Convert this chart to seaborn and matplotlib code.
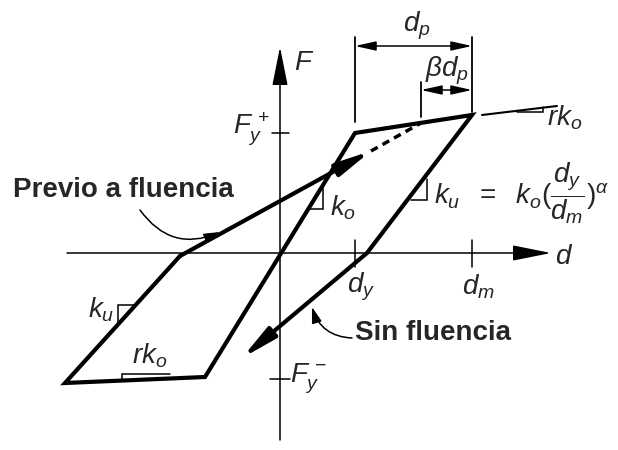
import matplotlib
matplotlib.use("Agg")
import matplotlib.pyplot as plt
import numpy as np
import pandas as pd
import seaborn as sns

# Takeda-type hysteresis sketch, diagram units: d to the right, F up
d_y, d_m = 75, 192
F_yp, F_yn = 120, -126
beta_d = 141

# heavy loop: yield point -> through origin -> negative branch -> load reversal
loop_d = [75, -75, -215, -100]
loop_F = [120, -124, -130, -3]
# primary curve: yield -> max -> unloading to zero force
env_d = [75, 192, 87]
env_F = [120, 138, 0]
# reloading "previo a fluencia" and its dashed target
reload_d = [-100, 91]
reload_F = [-3, 102]
target_d = [91, 141]
target_F = [102, 130]
# "sin fluencia" branch after unloading
noyield_d = [87, -38]
noyield_F = [0, -105]
# thin continuation of post-yield slope
post_d = [202, 277]
post_F = [138, 147]

# slope marks (right triangles)
tri_k0_d, tri_k0_F = [29, 43, 43], [44, 44, 67]
tri_ku_d, tri_ku_F = [131, 147, 147], [53, 53, 74]
tri_kul_d, tri_kul_F = [-145, -162, -162], [-52, -52, -69]
tri_rkb_d, tri_rkb_F = [-158, -158, -110], [-128, -121, -121]
tri_rkt_d, tri_rkt_F = [237, 263, 263], [141, 141, 146]

sns.set_theme(style="white")
plt.rcParams["mathtext.fontset"] = "custom"
plt.rcParams["mathtext.it"] = "Liberation Sans:italic"
plt.rcParams["mathtext.rm"] = "Liberation Sans"
plt.rcParams["mathtext.bf"] = "Liberation Sans:bold"

fig = plt.figure(figsize=(6.18, 4.5), dpi=100)
ax = fig.add_axes([0, 0, 1, 1])
ax.set_xlim(-280, 338)
ax.set_ylim(-197, 253)
ax.axis("off")


def seg(xs, ys, lw=3.0, ls="-"):
    df = pd.DataFrame({"d": xs, "F": ys})
    sns.lineplot(data=df, x="d", y="F", sort=False, estimator=None, ax=ax,
                 color="black", lw=lw, linestyle=ls, solid_joinstyle="miter")


def arrow(p0, p1, lw=3.0, ms=13, style="-|>,head_length=1.6,head_width=0.3"):
    ax.annotate("", xy=p1, xytext=p0, annotation_clip=False,
                arrowprops=dict(arrowstyle=style, lw=lw, color="black",
                                mutation_scale=ms, shrinkA=0, shrinkB=0))


def shaft_with_head(xs, ys, back=24, lw=3.0, **kw):
    # shaft drawn as a line, head as a short arrow ending on the last point
    p0 = np.array([xs[0], ys[0]], float)
    p1 = np.array([xs[1], ys[1]], float)
    u = (p1 - p0) / np.linalg.norm(p1 - p0)
    base = p1 - back * u
    seg([p0[0], base[0] + 4 * u[0]], [p0[1], base[1] + 4 * u[1]], lw=lw)
    arrow(tuple(base), tuple(p1), lw=lw, **kw)


# axes
ax_head = "-|>,head_length=1.5,head_width=0.3"
shaft_with_head([-213, 271], [0, 0], back=30, lw=1.1, ms=16, style=ax_head)
shaft_with_head([0, 0], [-187, 206], back=30, lw=1.1, ms=16, style=ax_head)
seg([-8, 9], [F_yp, F_yp], lw=1.1)
seg([-10, 10], [F_yn, F_yn], lw=1.1)
seg([d_y, d_y], [-14, 13], lw=1.1)
seg([d_m, d_m], [-14, 13], lw=1.1)

# hysteresis
seg(loop_d, loop_F)
seg(env_d, env_F)
shaft_with_head(reload_d, reload_F)
seg(target_d, target_F, lw=2.5, ls=(0, (2.2, 1.6)))
shaft_with_head(noyield_d, noyield_F)
seg(post_d, post_F, lw=1.5)

for td, tF in [(tri_k0_d, tri_k0_F), (tri_ku_d, tri_ku_F), (tri_kul_d, tri_kul_F),
               (tri_rkb_d, tri_rkb_F), (tri_rkt_d, tri_rkt_F)]:
    seg(td, tF, lw=1.1)

# d_p dimensions
seg([d_y, d_y], [131, 216], lw=1.3)
seg([d_m, d_m], [141, 216], lw=1.3)
seg([beta_d, beta_d], [136, 171], lw=1.3)
arrow((d_y, 207), (d_m, 207), lw=1.1, ms=14, style="<|-|>,head_length=0.9,head_width=0.2")
arrow((beta_d, 163), (d_m, 163), lw=1.1, ms=14, style="<|-|>,head_length=0.9,head_width=0.2")

fs = 20
ax.text(14, 191, "$F$", fontsize=fs, ha="left", va="center")
ax.text(-10, 124, "$F_y^{\\,+}$", fontsize=fs, ha="right", va="center")
ax.text(10, -126, "$F_y^{\\,-}$", fontsize=fs, ha="left", va="center")
ax.text(d_y + 6, -34, "$d_y$", fontsize=fs, ha="center", va="center")
ax.text(d_m + 6, -34, "$d_m$", fontsize=fs, ha="center", va="center")
ax.text(284, -3, "$d$", fontsize=fs, ha="center", va="center")
ax.text(50, 45, "$k_o$", fontsize=fs, ha="left", va="center")
ax.text(154, 60, "$k_u\\ \\ =\\ \\ k_o(\\dfrac{d_y}{d_m})^{\\alpha}$", fontsize=fs, ha="left", va="center")
ax.text(-166, -57, "$k_u$", fontsize=fs, ha="right", va="center")
ax.text(-130, -103, "$rk_o$", fontsize=fs, ha="center", va="center")
ax.text(267, 135, "$rk_o$", fontsize=fs, ha="left", va="center")
ax.text(137, 227, "$d_p$", fontsize=fs, ha="center", va="center")
ax.text(167, 182, "$\\beta d_p$", fontsize=fs, ha="center", va="center")

# descriptive labels with curved leaders
ax.text(-267, 63, "Previo a fluencia", fontsize=20, fontweight="bold",
        family="Liberation Sans", ha="left", va="center")
ax.annotate("", xy=(-60, 21), xytext=(-140, 43),
            arrowprops=dict(arrowstyle="-|>,head_length=0.8,head_width=0.25", lw=1.1,
                            color="black", mutation_scale=12, shrinkA=0, shrinkB=0,
                            connectionstyle="arc3,rad=0.4"))
ax.text(75, -80, "Sin fluencia", fontsize=20, fontweight="bold",
        family="Liberation Sans", ha="left", va="center")
ax.annotate("", xy=(32, -54), xytext=(72, -85),
            arrowprops=dict(arrowstyle="-|>,head_length=0.8,head_width=0.25", lw=1.1,
                            color="black", mutation_scale=12, shrinkA=0, shrinkB=0,
                            connectionstyle="arc3,rad=-0.35"))

fig.savefig("out.png", dpi=100, facecolor="white")
